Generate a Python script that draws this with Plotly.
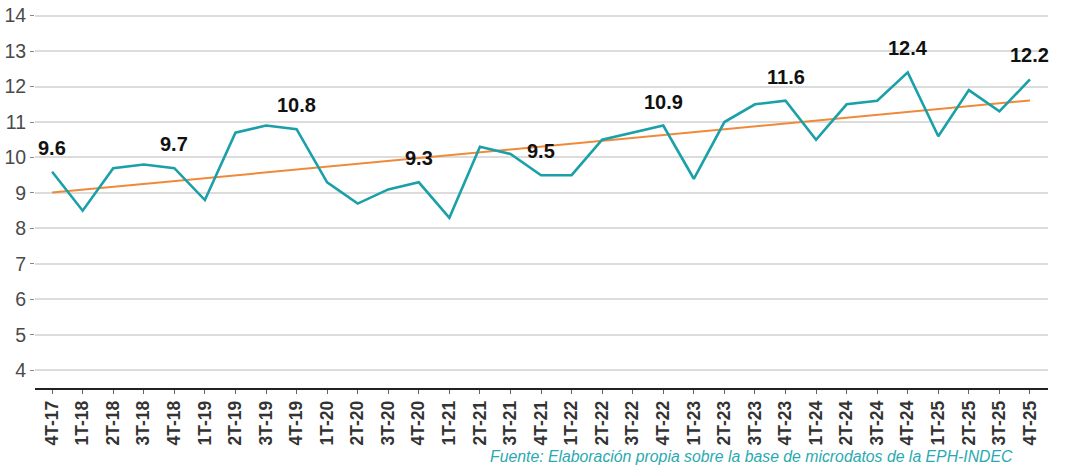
import numpy as np
import plotly.graph_objects as go

# Quarterly series
quarters = [
    "4T-17", "1T-18", "2T-18", "3T-18", "4T-18", "1T-19", "2T-19", "3T-19", "4T-19",
    "1T-20", "2T-20", "3T-20", "4T-20", "1T-21", "2T-21", "3T-21", "4T-21",
    "1T-22", "2T-22", "3T-22", "4T-22", "1T-23", "2T-23", "3T-23", "4T-23",
    "1T-24", "2T-24", "3T-24", "4T-24", "1T-25", "2T-25", "3T-25", "4T-25",
]
values = [
    9.6, 8.5, 9.7, 9.8, 9.7, 8.8, 10.7, 10.9, 10.8,
    9.3, 8.7, 9.1, 9.3, 8.3, 10.3, 10.1, 9.5,
    9.5, 10.5, 10.7, 10.9, 9.4, 11.0, 11.5, 11.6,
    10.5, 11.5, 11.6, 12.4, 10.6, 11.9, 11.3, 12.2,
]
y_ticks = [4, 5, 6, 7, 8, 9, 10, 11, 12, 13, 14]
caption = "Fuente: Elaboración propia sobre la base de microdatos de la EPH-INDEC"

# Linear trend fitted on the series
idx = np.arange(len(values))
slope, intercept = np.polyfit(idx, values, 1)
trend = slope * idx + intercept

TEAL = "#1aa0a8"
ORANGE = "#ef8a3a"
FONT = "Liberation Sans, Arial, sans-serif"

fig = go.Figure()
fig.add_trace(go.Scatter(
    x=list(range(len(quarters))), y=trend, mode="lines",
    line=dict(color=ORANGE, width=2), hoverinfo="skip", showlegend=False,
))
fig.add_trace(go.Scatter(
    x=list(range(len(quarters))), y=values, mode="lines",
    line=dict(color=TEAL, width=2.6), showlegend=False,
))

# Value labels on every fourth quarter (Q4 of each year)
for i, (q, v) in enumerate(zip(quarters, values)):
    if q.startswith("4T"):
        fig.add_annotation(
            x=i, y=v, text=f"<b>{v:.1f}</b>", showarrow=False,
            yshift=24, font=dict(family=FONT, size=20, color="#111111"),
        )

fig.add_annotation(
    xref="paper", yref="paper", x=0.967, y=-0.178, xanchor="right", yanchor="middle",
    text=f"<i>{caption}</i>", showarrow=False,
    font=dict(family=FONT, size=15.8, color="#2aa9b1"),
)

fig.update_layout(
    width=1068, height=467,
    margin=dict(l=35, r=20, t=5, b=79),
    paper_bgcolor="white", plot_bgcolor="white",
    font=dict(family=FONT),
    xaxis=dict(
        range=[-0.56, len(quarters) - 1 + 0.59],
        tickmode="array", tickvals=list(range(len(quarters))),
        ticktext=[f"<b>{q}</b>" for q in quarters],
        tickangle=-90, tickfont=dict(family=FONT, size=17.5, color="#333333"),
        showgrid=False, zeroline=False,
        showline=True, linecolor="#222222", linewidth=1.5,
        ticks="outside", ticklen=4, tickcolor="#666666", tickwidth=1,
    ),
    yaxis=dict(
        range=[3.5, 14.3],
        tickmode="array", tickvals=y_ticks,
        tickfont=dict(family=FONT, size=19.5, color="#4a4a4a"),
        showgrid=True, gridcolor="#dcdcdc", gridwidth=1.5,
        zeroline=False, showline=False,
        ticks="outside", ticklen=4, tickcolor="#888888", tickwidth=1,
    ),
)

fig.write_html("out.html")
